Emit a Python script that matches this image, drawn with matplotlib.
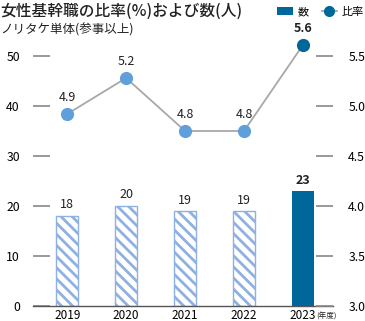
import matplotlib
matplotlib.use("Agg")
import matplotlib.pyplot as plt
from matplotlib.lines import Line2D
from matplotlib.patches import Patch

plt.rcParams['font.family'] = ['Noto Sans CJK JP', 'DejaVu Sans']
plt.rcParams['hatch.linewidth'] = 2.0

years = ['2019', '2020', '2021', '2022', '2023']
counts = [18, 20, 19, 19, 23]
ratios = [4.92, 5.28, 4.75, 4.75, 5.61]
ratio_labels = ['4.9', '5.2', '4.8', '4.8', '5.6']
left_ticks = [0, 10, 20, 30, 40, 50]
right_ticks = [3.0, 3.5, 4.0, 4.5, 5.0, 5.5]

light_blue = '#8fb0e2'
dark_blue = '#00679b'
marker_light = '#5fa0dc'
tick_gray = '#888888'

W, H = 365, 321
fig = plt.figure(figsize=(W/100, H/100), dpi=100)
ax = fig.add_axes([33/W, (H-306)/H, (333-33)/W, (306-36)/H])
x = list(range(len(years)))

for i, c in enumerate(counts):
    if i < len(counts) - 1:
        ax.bar(i, c, width=0.37, facecolor='white', edgecolor=light_blue,
               hatch='\\\\\\', linewidth=1.0)
    else:
        ax.bar(i, c, width=0.37, color=dark_blue, linewidth=0)
    ax.text(i, c + 0.9, str(c), ha='center', va='bottom', fontsize=9,
            color='#222222', fontweight='bold' if i == len(counts)-1 else 'normal')

ax.set_xlim(-0.58, 4.51)
ax.set_ylim(0, 54)
ax.set_yticks(left_ticks)
ax.set_xticks(x)
ax.set_xticklabels(years, fontsize=8.5)
ax.tick_params(axis='x', length=0, pad=2.5)
ax.tick_params(axis='y', direction='in', length=12, width=1.2, color=tick_gray,
               pad=9.5, labelsize=8.8)
for s in ['top', 'left', 'right']:
    ax.spines[s].set_visible(False)
ax.spines['bottom'].set_color('#555555')
ax.spines['bottom'].set_linewidth(1.0)

ax2 = ax.twinx()
ax2.set_ylim(3.0, 5.7)
ax2.plot(x, ratios, color='#a8a8a8', linewidth=1.3, zorder=2)
for i, r in enumerate(ratios):
    mc = dark_blue if i == len(ratios)-1 else marker_light
    ax2.plot(i, r, 'o', markersize=9.5, color=mc, markeredgewidth=0, zorder=3)
    ax2.text(i, r + 0.1, ratio_labels[i], ha='center', va='bottom',
             fontsize=9, color='#222222',
             fontweight='bold' if i == len(ratios)-1 else 'normal')
ax2.set_yticks(right_ticks)
ax2.set_yticklabels([f'{t:.1f}' for t in right_ticks])
ax2.tick_params(axis='y', direction='in', length=12, width=1.2, color=tick_gray,
                pad=11, labelsize=8.8)
for s in ['top', 'left', 'right', 'bottom']:
    ax2.spines[s].set_visible(False)

fig.text(0.0, 1 - 11/H, '女性基幹職の比率(%)および数(人)', fontsize=11.3,
         va='center', ha='left', color='#222222', fontweight='medium')
fig.text(0.0, 1 - 30/H, 'ノリタケ単体(参事以上)', fontsize=9,
         va='center', ha='left', color='#222222')
fig.text(316/W, 1 - 317/H, '(年度)', fontsize=5.5, va='center', ha='left',
         color='#222222')

handles = [Patch(facecolor=dark_blue, edgecolor='none'),
           Line2D([0], [0], color='#a0a0a0', marker='o', markersize=8,
                  markerfacecolor=dark_blue, markeredgewidth=0, linewidth=1.2)]
fig.legend(handles, ['数', '比率'], loc='center right',
           bbox_to_anchor=(1.0, 1 - 12/H), ncol=2, frameon=False,
           fontsize=8, handlelength=1.4, handletextpad=0.4, columnspacing=1.2,
           borderpad=0, borderaxespad=0.1)

fig.savefig('out.png', dpi=100)
